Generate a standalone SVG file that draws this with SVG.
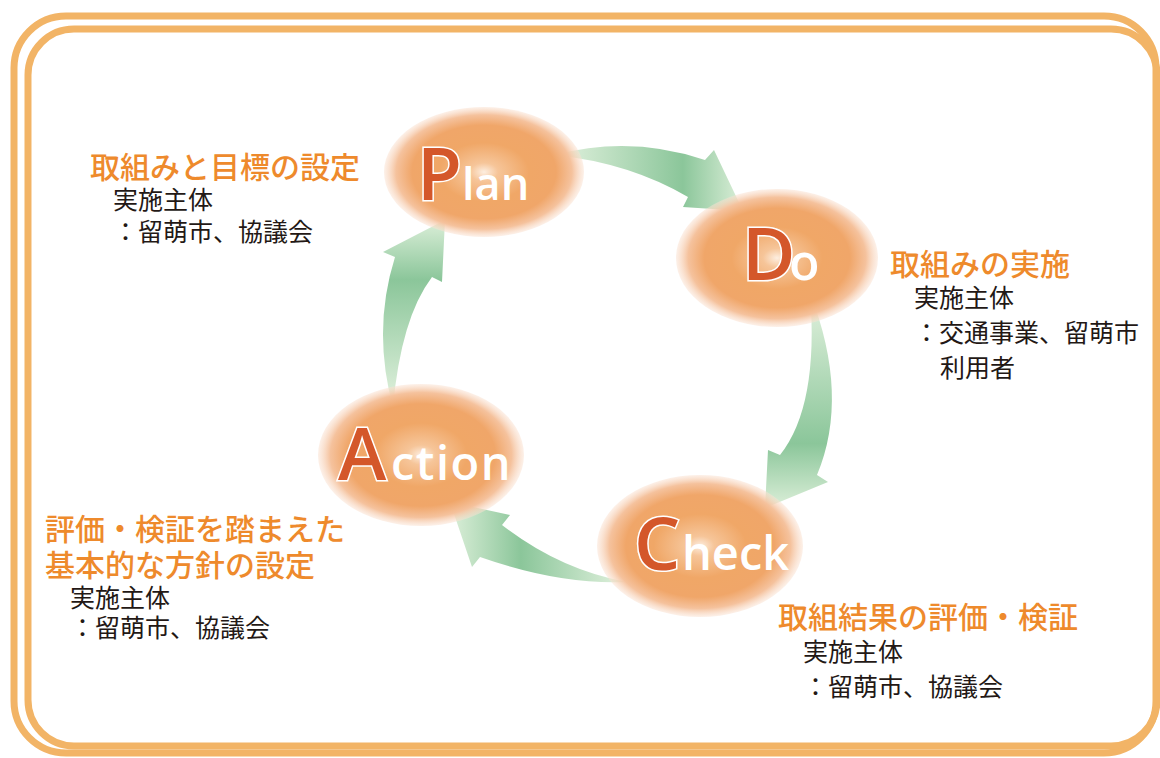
<svg xmlns="http://www.w3.org/2000/svg" width="1160" height="758" viewBox="0 0 1160 758">
<defs>
<radialGradient id="eg" cx="50%" cy="50%" r="50%">
<stop offset="0%" stop-color="#FDEEE0"/>
<stop offset="14%" stop-color="#F6C599"/>
<stop offset="45%" stop-color="#F0A767"/>
<stop offset="72%" stop-color="#F0A669"/>
<stop offset="88%" stop-color="#F5C29D"/>
<stop offset="100%" stop-color="#FAE2D2" stop-opacity="0.5"/>
</radialGradient>
<linearGradient id="g1" gradientUnits="userSpaceOnUse" x1="555" y1="0" x2="743" y2="0">
<stop offset="0%" stop-color="#E3F2DF"/><stop offset="68%" stop-color="#8BC69A"/><stop offset="100%" stop-color="#DCEFD9"/>
</linearGradient>
<linearGradient id="g2" gradientUnits="userSpaceOnUse" x1="0" y1="293" x2="0" y2="508">
<stop offset="0%" stop-color="#E3F2DF"/><stop offset="70%" stop-color="#8BC69A"/><stop offset="100%" stop-color="#DCEFD9"/>
</linearGradient>
<linearGradient id="g3" gradientUnits="userSpaceOnUse" x1="627" y1="0" x2="450" y2="0">
<stop offset="0%" stop-color="#E3F2DF"/><stop offset="60%" stop-color="#8BC69A"/><stop offset="100%" stop-color="#DCEFD9"/>
</linearGradient>
<linearGradient id="g4" gradientUnits="userSpaceOnUse" x1="0" y1="407" x2="0" y2="220">
<stop offset="0%" stop-color="#E3F2DF"/><stop offset="68%" stop-color="#8BC69A"/><stop offset="100%" stop-color="#DCEFD9"/>
</linearGradient>
</defs>
<style>
.frame{fill:none;stroke:#F2B466;stroke-width:7}
.nm{font-family:"Open Sans","DejaVu Sans",sans-serif;font-weight:600;fill:#FFFFFF}
.big{font-size:73px;fill:#D4572A;stroke:#FFFFFF;stroke-width:3;paint-order:stroke}
.ttl{font-family:"Noto Sans CJK JP",sans-serif;font-size:30px;font-weight:500;fill:#EE8A2C}
.bd{font-family:"Noto Sans CJK JP",sans-serif;font-size:25px;fill:#231815}
</style>
<rect width="1160" height="758" fill="#FFFFFF"/>
<rect class="frame" x="14" y="16" width="1142" height="737" rx="52"/>
<rect class="frame" x="28" y="29" width="1129" height="717" rx="46"/>

<g id="connectors">
<path d="M555,155 Q630,135 705,160 L714,150 L743,211 L683,207 L688,197 Q630,163 555,155 Z" fill="url(#g1)"/>
<path d="M810,293 Q850,396 817,475 L828,482 L765,508 L768,450 L780,455 Q819,406 810,293 Z" fill="url(#g2)"/>
<path d="M627,582 Q560,585 480,557 L472,567 L450,502 L510,515 L502,525 Q560,570 627,582 Z" fill="url(#g3)"/>
<path d="M393,407 Q372,330 395,257 L383,252 L445,220 L442,282 L432,277 Q401,318 393,407 Z" fill="url(#g4)"/>
</g>

<g id="plan">
<ellipse cx="484" cy="172" rx="100" ry="65" fill="url(#eg)"/>
<text y="200" class="nm"><tspan x="417" class="big">P</tspan><tspan x="462" font-size="45">lan</tspan></text>
</g>
<g id="do">
<ellipse cx="777" cy="258" rx="101" ry="69" fill="url(#eg)"/>
<text y="280" class="nm"><tspan x="742" class="big">D</tspan><tspan x="789" font-size="50">o</tspan></text>
</g>
<g id="check">
<ellipse cx="700" cy="546" rx="103" ry="71" fill="url(#eg)"/>
<text y="570" class="nm"><tspan x="634" class="big">C</tspan><tspan x="682" font-size="47">heck</tspan></text>
</g>
<g id="action">
<ellipse cx="421" cy="455" rx="103" ry="71" fill="url(#eg)"/>
<text y="480" class="nm"><tspan x="338" class="big">A</tspan><tspan x="391" font-size="47" letter-spacing="1.5">ction</tspan></text>
</g>

<g id="label-plan">
<text x="90" y="178" class="ttl">取組みと目標の設定</text>
<text x="113" y="209" class="bd">実施主体</text>
<text x="113" y="241" class="bd">：留萌市、協議会</text>
</g>
<g id="label-do">
<text x="890" y="275" class="ttl">取組みの実施</text>
<text x="914" y="307" class="bd">実施主体</text>
<text x="914" y="342" class="bd">：交通事業、留萌市</text>
<text x="940" y="377" class="bd">利用者</text>
</g>
<g id="label-check">
<text x="778" y="628" class="ttl">取組結果の評価・検証</text>
<text x="803" y="661" class="bd">実施主体</text>
<text x="803" y="696" class="bd">：留萌市、協議会</text>
</g>
<g id="label-action">
<text x="45" y="540" class="ttl">評価・検証を踏まえた</text>
<text x="45" y="576" class="ttl">基本的な方針の設定</text>
<text x="70" y="607" class="bd">実施主体</text>
<text x="70" y="637" class="bd">：留萌市、協議会</text>
</g>
</svg>
